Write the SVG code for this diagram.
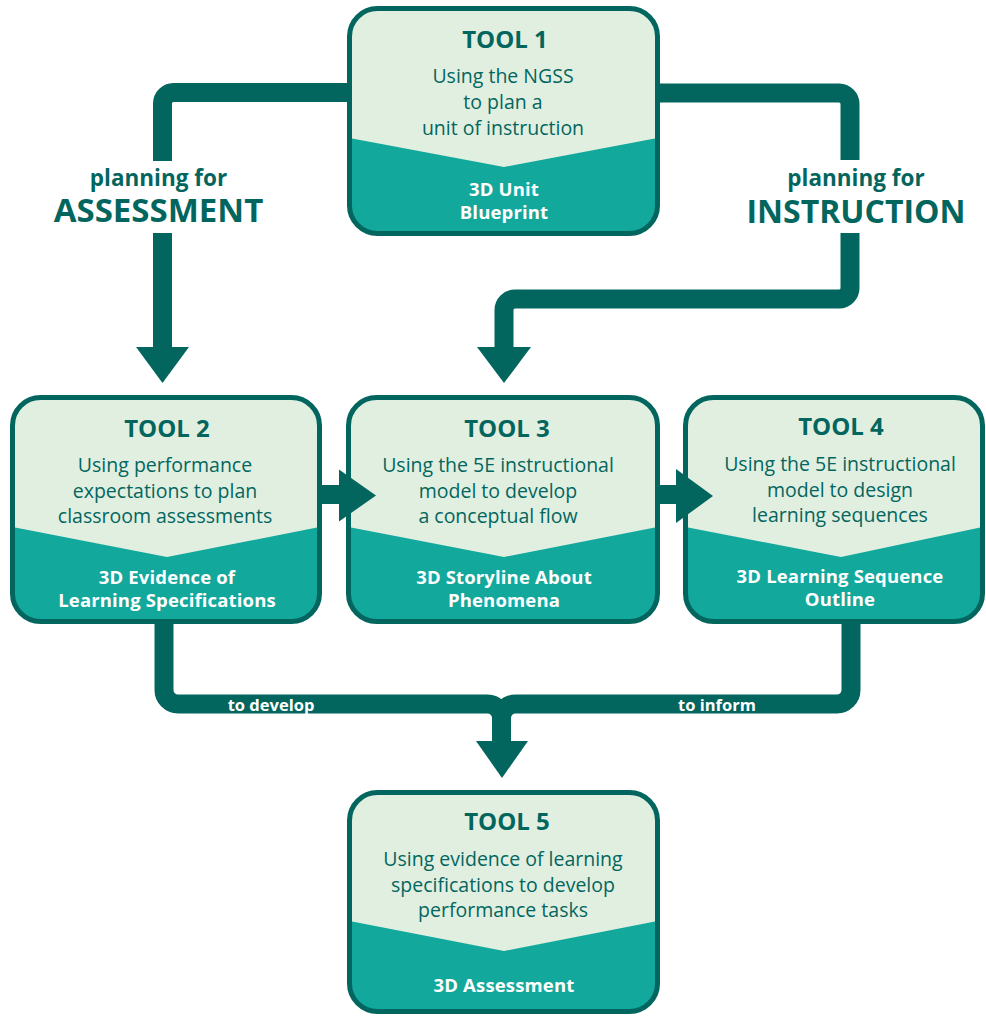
<svg xmlns="http://www.w3.org/2000/svg" width="986" height="1016" viewBox="0 0 986 1016">
<defs>
<style>
.bg{fill:#e1efe1}
.low{fill:#13a89c}
.frame{fill:none;stroke:#03665e;stroke-width:5}
.title{font-family:"Open Sans","Liberation Sans",sans-serif;font-weight:700;font-size:24px;fill:#03665e;text-anchor:middle}
.body{font-family:"Open Sans","Liberation Sans",sans-serif;font-size:19.5px;fill:#03665e;text-anchor:middle}
.out{font-family:"Open Sans","Liberation Sans",sans-serif;font-weight:700;font-size:18.5px;letter-spacing:0.15px;fill:#ffffff;text-anchor:middle}
.pf{font-family:"Open Sans","Liberation Sans",sans-serif;font-weight:700;font-size:22.5px;fill:#03665e;text-anchor:middle}
.big{font-family:"Open Sans","Liberation Sans",sans-serif;font-weight:700;font-size:32px;fill:#03665e;text-anchor:middle}
.lbl{font-family:"Open Sans","Liberation Sans",sans-serif;font-weight:700;font-size:16.5px;fill:#ffffff;text-anchor:middle}
.wire{fill:none;stroke:#03665e;stroke-width:19}
.head{fill:#03665e}
</style>
</defs>

<g id="tool1">
<rect class="bg" x="349.5" y="8.5" width="308" height="225" rx="28"/>
<path class="low" d="M349.5,138 L504,167 L657.5,138 V205.5 A28 28 0 0 1 629.5,233.5 H377.5 A28 28 0 0 1 349.5,205.5 Z"/>
<rect class="frame" x="349.5" y="8.5" width="308" height="225" rx="28"/>
<text class="title" x="505" y="48">TOOL 1</text>
<text class="body" x="503" y="83">Using the NGSS</text>
<text class="body" x="503" y="109">to plan a</text>
<text class="body" x="503" y="135">unit of instruction</text>
<text class="out" x="504" y="196">3D Unit</text>
<text class="out" x="504" y="219">Blueprint</text>
</g>

<g id="tool2">
<rect class="bg" x="12.5" y="397.5" width="307" height="224" rx="28"/>
<path class="low" d="M12.5,527 L167,557 L319.5,527 V593.5 A28 28 0 0 1 291.5,621.5 H40.5 A28 28 0 0 1 12.5,593.5 Z"/>
<rect class="frame" x="12.5" y="397.5" width="307" height="224" rx="28"/>
<text class="title" x="167" y="437">TOOL 2</text>
<text class="body" x="165" y="472">Using performance</text>
<text class="body" x="165" y="498">expectations to plan</text>
<text class="body" x="165" y="523">classroom assessments</text>
<text class="out" x="167" y="584">3D Evidence of</text>
<text class="out" x="167" y="607">Learning Specifications</text>
</g>

<g id="tool3">
<rect class="bg" x="348.5" y="397.5" width="309" height="224" rx="28"/>
<path class="low" d="M348.5,527 L504,557 L657.5,527 V593.5 A28 28 0 0 1 629.5,621.5 H376.5 A28 28 0 0 1 348.5,593.5 Z"/>
<rect class="frame" x="348.5" y="397.5" width="309" height="224" rx="28"/>
<text class="title" x="507" y="437">TOOL 3</text>
<text class="body" x="498" y="472">Using the 5E instructional</text>
<text class="body" x="498" y="498">model to develop</text>
<text class="body" x="498" y="523">a conceptual flow</text>
<text class="out" x="504" y="584">3D Storyline About</text>
<text class="out" x="504" y="607">Phenomena</text>
</g>

<g id="tool4">
<rect class="bg" x="685.5" y="397.5" width="297" height="224" rx="28"/>
<path class="low" d="M685.5,527 L841,557 L982.5,527 V593.5 A28 28 0 0 1 954.5,621.5 H713.5 A28 28 0 0 1 685.5,593.5 Z"/>
<rect class="frame" x="685.5" y="397.5" width="297" height="224" rx="28"/>
<text class="title" x="841" y="435">TOOL 4</text>
<text class="body" x="840" y="471">Using the 5E instructional</text>
<text class="body" x="840" y="497">model to design</text>
<text class="body" x="840" y="522">learning sequences</text>
<text class="out" x="840" y="583">3D Learning Sequence</text>
<text class="out" x="840" y="606">Outline</text>
</g>

<g id="tool5">
<rect class="bg" x="349.5" y="792.5" width="308" height="219" rx="28"/>
<path class="low" d="M349.5,921 L504,951 L657.5,921 V983.5 A28 28 0 0 1 629.5,1011.5 H377.5 A28 28 0 0 1 349.5,983.5 Z"/>
<rect class="frame" x="349.5" y="792.5" width="308" height="219" rx="28"/>
<text class="title" x="507" y="830">TOOL 5</text>
<text class="body" x="503" y="866">Using evidence of learning</text>
<text class="body" x="503" y="892">specifications to develop</text>
<text class="body" x="503" y="917">performance tasks</text>
<text class="out" x="504" y="992">3D Assessment</text>
</g>

<g id="connectors">
<path class="wire" d="M350,92.5 H173.5 A11 11 0 0 0 162.5,103.5 V161"/>
<path class="wire" d="M162.5,233 V348"/>
<polygon class="head" points="136,347 189,347 162.5,383"/>
<path class="wire" d="M657,93 H839 A11 11 0 0 1 850,104 V160"/>
<path class="wire" d="M850,233 V288 A11 11 0 0 1 839,299 H515 A11 11 0 0 0 504,310 V348"/>
<polygon class="head" points="477,347 531,347 504,383"/>
<path class="wire" d="M320,494.5 H340"/>
<polygon class="head" points="339,469.5 339,521.5 376,495.5"/>
<path class="wire" d="M657,494.5 H677"/>
<polygon class="head" points="676,469 676,523 713,496"/>
<path class="wire" d="M164,622 V690 A14 14 0 0 0 178,704 H487.5 A14 14 0 0 1 501.5,718 V742"/>
<path class="wire" d="M851,622 V690 A14 14 0 0 1 837,704 H515.5 A14 14 0 0 0 501.5,718 V742"/>
<polygon class="head" points="476,741 528,741 502,778"/>
<text class="lbl" x="271" y="711">to develop</text>
<text class="lbl" x="717" y="711">to inform</text>
</g>

<g id="labels">
<text class="pf" x="158.5" y="186">planning for</text>
<text class="big" x="158.5" y="222" style="font-size:33px">ASSESSMENT</text>
<text class="pf" x="856" y="186">planning for</text>
<text class="big" x="856" y="223">INSTRUCTION</text>
</g>
</svg>
